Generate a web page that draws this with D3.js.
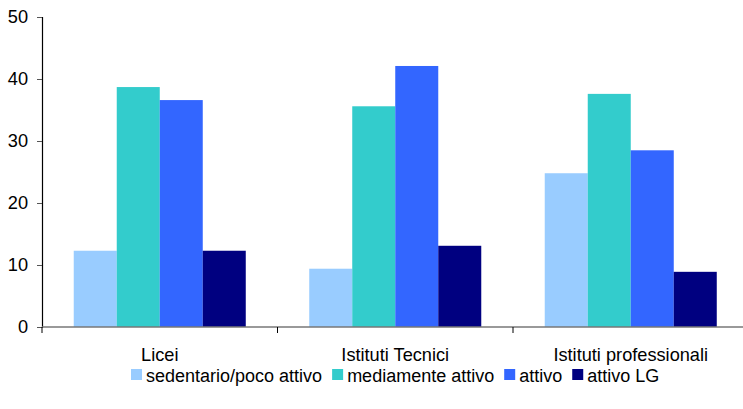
<!DOCTYPE html>
<html>
<head>
<meta charset="utf-8">
<script src="https://cdn.jsdelivr.net/npm/d3@7"></script>
<style>
  html, body { margin: 0; padding: 0; background: #fff; }
  svg { display: block; font-family: "Liberation Sans", Arial, sans-serif; }
</style>
</head>
<body>
<svg id="chart" width="743" height="409"></svg>
<script>
const categories = ["Licei", "Istituti Tecnici", "Istituti professionali"];
const seriesNames = ["sedentario/poco attivo", "mediamente attivo", "attivo", "attivo LG"];
const seriesColors = ["#99ccff", "#33cccc", "#3366ff", "#000080"];
const sedentario = [12.3, 9.4, 24.8];
const mediamente = [38.7, 35.6, 37.6];
const attivo = [36.6, 42.1, 28.5];
const attivoLG = [12.3, 13.1, 8.9];
const yTicks = [0, 10, 20, 30, 40, 50];

const seriesValues = [sedentario, mediamente, attivo, attivoLG];

const svg = d3.select("#chart");
const mLeft = 42, mRight = 748.5, mTop = 17, mBottom = 327;
const fs = 18.2;

const x = d3.scaleBand().domain(categories).range([mLeft, mRight]).paddingInner(0).paddingOuter(0);
const xs = d3.scaleBand().domain(seriesNames).range([0, x.bandwidth()]).paddingInner(0).paddingOuter(0.738);
const y = d3.scaleLinear().domain([0, 50]).range([mBottom, mTop]);

// bars
const g = svg.append("g");
categories.forEach((c, ci) => {
  seriesNames.forEach((s, si) => {
    const v = seriesValues[si][ci];
    g.append("rect")
      .attr("x", x(c) + xs(s))
      .attr("y", y(v))
      .attr("width", xs.bandwidth())
      .attr("height", y(0) - y(v))
      .attr("fill", seriesColors[si]);
  });
});

// y axis
const yAxis = d3.axisLeft(y).tickValues(yTicks).tickSize(5).tickPadding(9).tickFormat(d3.format("d"));
const ya = svg.append("g").attr("transform", `translate(${mLeft},0)`).call(yAxis);
ya.select(".domain").attr("stroke", "#000").attr("stroke-width", 1.2);
ya.selectAll(".tick line").attr("stroke", "#555");
ya.selectAll(".tick text").attr("font-size", fs).attr("fill", "#000")
  .attr("font-family", "Liberation Sans, Arial, sans-serif");

// x axis
const xa = svg.append("g").attr("transform", `translate(0,${mBottom})`);
xa.append("line").attr("x1", mLeft).attr("x2", 743).attr("y1", 0).attr("y2", 0)
  .attr("stroke", "#777").attr("stroke-width", 1.5);
categories.forEach((c, ci) => {
  xa.append("line").attr("x1", x(c)).attr("x2", x(c)).attr("y1", 0).attr("y2", 6)
    .attr("stroke", "#000").attr("stroke-width", 1);
  xa.append("text").attr("x", x(c) + x.bandwidth() / 2).attr("y", 34)
    .attr("text-anchor", "middle").attr("font-size", fs).attr("fill", "#000").text(c);
});

// legend
const leg = svg.append("g").attr("transform", "translate(131,0)");
let lx = 0;
seriesNames.forEach((s, si) => {
  leg.append("rect").attr("x", lx).attr("y", 369).attr("width", 11).attr("height", 11)
    .attr("fill", seriesColors[si]);
  const t = leg.append("text").attr("x", lx + 15).attr("y", 382)
    .attr("font-size", 18).attr("fill", "#000").text(s);
  const w = t.node().getComputedTextLength();
  lx += 15 + w + 10;
});
</script>
</body>
</html>
